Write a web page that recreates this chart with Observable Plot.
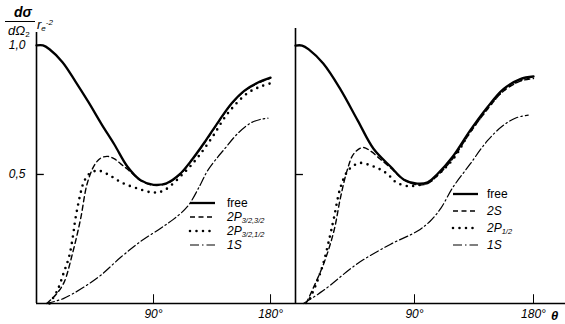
<!DOCTYPE html>
<html><head><meta charset="utf-8">
<script src="https://cdn.jsdelivr.net/npm/d3@7"></script>
<script src="https://cdn.jsdelivr.net/npm/@observablehq/plot@0.6"></script>
<style>
body{margin:0;background:#fff;}
#wrap{position:relative;width:565px;height:324px;overflow:hidden;font-family:"Liberation Sans Narrow","Liberation Sans",Arial,sans-serif;color:#000;}
.t{position:absolute;white-space:nowrap;line-height:1;}
sub{font-size:62%;vertical-align:-0.25em;line-height:0;font-style:italic;}
sup{font-size:62%;vertical-align:0.55em;line-height:0;}
</style></head><body>
<div id="wrap"></div>
<script>
// ---- data (theta in degrees, value = dσ/dΩ2 · re^-2) ----
const xTicks = [90, 180];
const xTickLabels = ["90°", "180°"];
const yTicks = [0.5, 1.0];
const yTickLabels = ["0,5", "1,0"];

// left panel
const thFreeL = [0, 5, 10, 20, 30, 40, 50, 60, 70, 80, 90, 100, 110, 120, 130, 140, 150, 160, 170, 180];
const freeL   = [1.0, 1.0, 0.985, 0.935, 0.86, 0.78, 0.695, 0.615, 0.53, 0.478, 0.46, 0.466, 0.5, 0.56, 0.63, 0.705, 0.775, 0.825, 0.855, 0.875];
const thDashL = [8, 15, 21, 28, 34, 39, 45, 50, 55, 60, 65, 70, 75, 80, 90, 100, 110, 120, 130, 140, 150, 160, 170, 180];
const dashL   = [0, 0.035, 0.08, 0.2, 0.33, 0.465, 0.54, 0.565, 0.57, 0.56, 0.54, 0.52, 0.498, 0.476, 0.458, 0.464, 0.498, 0.558, 0.628, 0.703, 0.773, 0.823, 0.853, 0.873];
const thDotL  = [10, 16, 21, 25, 28, 30, 34, 36, 40, 47, 55, 65, 78, 90, 98, 113, 124, 135, 147, 162, 172, 180];
const dotL    = [0, 0.05, 0.12, 0.18, 0.26, 0.33, 0.43, 0.465, 0.5, 0.515, 0.5, 0.47, 0.445, 0.43, 0.438, 0.504, 0.566, 0.643, 0.736, 0.814, 0.84, 0.853];
const th1SL   = [7, 21, 47, 65, 80, 95, 105, 116, 126, 131, 139, 144, 155, 165, 172, 178];
const oneSL   = [0, 0.02, 0.1, 0.18, 0.24, 0.29, 0.325, 0.375, 0.46, 0.51, 0.565, 0.595, 0.66, 0.7, 0.713, 0.718];

// right panel
const thFreeR = [0, 5, 10, 21, 34, 47, 59, 72, 82, 92, 100, 107, 119, 132, 145, 157, 170, 180];
const freeR   = [1.0, 1.0, 0.985, 0.93, 0.83, 0.71, 0.6, 0.53, 0.48, 0.465, 0.47, 0.5, 0.57, 0.67, 0.76, 0.83, 0.87, 0.88];
const thDashR = [8, 21, 29, 34, 39, 44, 51, 57, 64, 72, 82, 92, 100, 107, 119, 132, 145, 157, 170, 180];
const dashR   = [0, 0.15, 0.28, 0.41, 0.515, 0.58, 0.605, 0.59, 0.56, 0.525, 0.48, 0.46, 0.465, 0.494, 0.562, 0.662, 0.752, 0.822, 0.862, 0.872];
const thDotR  = [11, 16, 21, 26, 29, 34, 39, 44, 49, 57, 64, 70, 76, 85, 92, 100, 110, 120, 132, 145, 157, 170, 180];
const dotR    = [0.02, 0.08, 0.155, 0.26, 0.33, 0.45, 0.51, 0.535, 0.545, 0.535, 0.52, 0.5, 0.47, 0.455, 0.458, 0.468, 0.51, 0.565, 0.665, 0.755, 0.825, 0.865, 0.875];
const th1SR   = [6, 21, 47, 72, 92, 102, 110, 119, 132, 145, 157, 167, 176];
const oneSR   = [0, 0.05, 0.155, 0.23, 0.28, 0.32, 0.37, 0.45, 0.54, 0.63, 0.69, 0.72, 0.73];

const rows = (th, v) => th.map((t, i) => ({theta: t, v: v[i]}));

const styles = {
  free: {stroke: "#000", strokeWidth: 2.3},
  dash: {stroke: "#000", strokeWidth: 1.4, strokeDasharray: "5,3.5"},
  dot:  {stroke: "#000", strokeWidth: 2.6, strokeDasharray: "0,6.5", strokeLinecap: "round"},
  ds:   {stroke: "#000", strokeWidth: 1.2, strokeDasharray: "9,3,1.5,3"}
};
const FONT = "Liberation Sans Narrow, Liberation Sans, sans-serif";

function panel(opts, series) {
  const {ml, mr, mt, ymax, xmax, leftLabels} = opts;
  const marks = [
    Plot.ruleX([0], {stroke: "#000", strokeWidth: 1.6}),
    Plot.ruleY([0], {stroke: "#000", strokeWidth: 1.4}),
    Plot.ruleY([0.5], {x1: 0, x2: 6, stroke: "#000", strokeWidth: 1.3}),
    Plot.ruleX(xTicks, {y1: 0, y2: 0.034, stroke: "#000", strokeWidth: 1}),
    Plot.axisX({ticks: xTicks, tickSize: 0, tickPadding: 6, tickFormat: d => xTickLabels[xTicks.indexOf(d)],
      fontSize: 12, fontStyle: "italic", fontFamily: FONT, label: null}),
  ];
  if (leftLabels) marks.push(Plot.axisY({ticks: yTicks, tickSize: 0, tickPadding: 11,
      tickFormat: d => yTickLabels[yTicks.indexOf(d)], fontSize: 12, fontStyle: "italic",
      fontFamily: FONT, label: null}));
  for (const s of series) {
    marks.push(Plot.line(s.data, {x: "theta", y: "v", curve: "catmull-rom", ...styles[s.style]}));
  }
  return Plot.plot({
    width: 565, height: 324,
    marginLeft: ml, marginRight: mr, marginTop: mt, marginBottom: 21,
    x: {domain: [0, xmax], axis: null},
    y: {domain: [0, ymax], axis: null},
    style: "position:absolute;left:0;top:0;background:transparent;overflow:visible;",
    marks
  });
}

const wrap = document.getElementById("wrap");
wrap.appendChild(panel({ml: 36, mr: 270, mt: 32, ymax: 1.05, xmax: 199.2, leftLabels: true}, [
  {data: rows(th1SL, oneSL), style: "ds"},
  {data: rows(thDotL, dotL), style: "dot"},
  {data: rows(thDashL, dashL), style: "dash"},
  {data: rows(thFreeL, freeL), style: "free"}
]));
wrap.appendChild(panel({ml: 295, mr: 0, mt: 28, ymax: 1.066, xmax: 204.2, leftLabels: false}, [
  {data: rows(th1SR, oneSR), style: "ds"},
  {data: rows(thDotR, dotR), style: "dot"},
  {data: rows(thDashR, dashR), style: "dash"},
  {data: rows(thFreeR, freeR), style: "free"}
]));

// legends & labels (HTML overlay)
function sample(x, y, w, st) {
  const s = styles[st];
  const svg = `<svg width="${w+4}" height="8" style="position:absolute;left:${x-2}px;top:${y-4}px;overflow:visible">
    <line x1="2" y1="4" x2="${w+2}" y2="4" stroke="#000" stroke-width="${s.strokeWidth}"
      ${s.strokeDasharray ? `stroke-dasharray="${s.strokeDasharray}"` : ""}
      ${s.strokeLinecap ? `stroke-linecap="${s.strokeLinecap}"` : ""}/></svg>`;
  wrap.insertAdjacentHTML("beforeend", svg);
}
function label(x, y, html, extra = "") {
  wrap.insertAdjacentHTML("beforeend", `<div class="t" style="left:${x}px;top:${y}px;${extra}">${html}</div>`);
}
const legL = [
  {st: "free", y: 203, html: "free", it: false},
  {st: "dash", y: 217, html: "2P<sub>3/2,3/2</sub>", it: true},
  {st: "dot",  y: 231, html: "2P<sub>3/2,1/2</sub>", it: true},
  {st: "ds",   y: 245, html: "1S", it: true}
];
legL.forEach(r => { sample(190, r.y, 25, r.st); label(227, r.y - 6, r.html, `font-size:12px;${r.it ? "font-style:italic;" : ""}`); });
const legR = [
  {st: "free", y: 194, html: "free", it: false},
  {st: "dash", y: 211, html: "2S", it: true},
  {st: "dot",  y: 228, html: "2P<sub>1/2</sub>", it: true},
  {st: "ds",   y: 245, html: "1S", it: true}
];
legR.forEach(r => { sample(453, r.y, 25, r.st); label(487, r.y - 6, r.html, `font-size:12px;${r.it ? "font-style:italic;" : ""}`); });

// y-axis title: dσ/dΩ2 · re^-2
label(14, 5, "dσ", "font-size:14px;font-style:italic;font-weight:bold;");
wrap.insertAdjacentHTML("beforeend", `<div style="position:absolute;left:5px;top:21px;width:30px;border-top:1.3px solid #000"></div>`);
label(8, 24, "dΩ<sub style='font-style:normal'>2</sub>", "font-size:13px;font-style:italic;");
label(37, 18, "r<sub>e</sub><sup>-2</sup>", "font-size:13px;font-style:italic;");
// θ label
label(551, 309, "θ", "font-size:13px;font-style:italic;font-weight:bold;");
</script>
</body></html>
